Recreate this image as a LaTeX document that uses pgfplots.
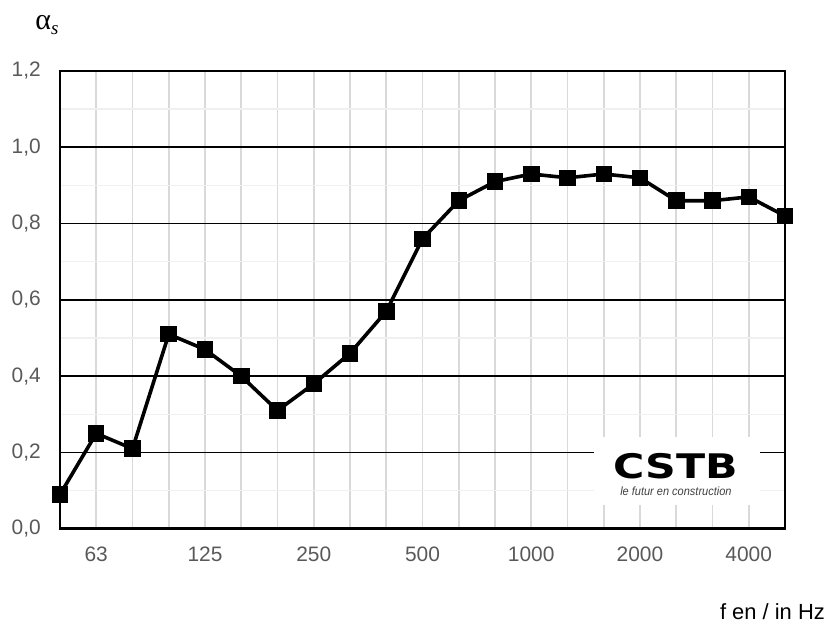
\documentclass[border=0pt]{standalone}
\usepackage{pgfplots}
\pgfplotsset{compat=1.18}
\usepackage{fontspec}
\setmainfont{Liberation Sans}
\newfontfamily\serifgr{Liberation Serif}
\newfontfamily\logofont{DejaVu Sans}
\definecolor{ticklab}{RGB}{89,89,89}
\definecolor{vgrid}{RGB}{217,217,217}
\definecolor{mgrid}{RGB}{240,240,240}
\begin{document}
\begin{tikzpicture}
\useasboundingbox (-60bp,-94.2bp) rectangle (767bp,528.8bp);
\begin{axis}[
    scale only axis,
    width=725bp, height=457.8bp,
    at={(0,0)}, anchor=south west,
    xmin=0, xmax=20, ymin=0, ymax=1.2,
    xtick={0,...,20},
    xticklabels={,63,,,125,,,250,,,500,,,1000,,,2000,,,4000,},
    ytick={0,0.2,0.4,0.6,0.8,1.0,1.2},
    minor y tick num=1,
    major tick length=0pt, minor tick length=0pt,
    xmajorgrids, ymajorgrids, yminorgrids,
    major x grid style={vgrid, line width=1.8bp},
    major y grid style={black, line width=1.6bp},
    minor y grid style={mgrid, line width=1.5bp},
    axis line style={black, line width=1.5bp},
    tick label style={font=\fontsize{21}{25}\selectfont, text=ticklab, inner sep=0pt},
    xticklabel style={anchor=center, yshift=-25bp},
    yticklabel style={anchor=east, xshift=-19bp},
    /pgf/number format/.cd, fixed, fixed zerofill, precision=1, use comma, assume math mode=true,
    /pgfplots/.cd,
    clip=false,
]
\draw[line width=2.8bp] (rel axis cs:0,0) -- (rel axis cs:1,0);
\node[fill=white, inner sep=0pt, minimum width=166bp, minimum height=68bp] at (axis cs:17.02,0.151) {};
\node[inner sep=0pt] at (axis cs:16.99,0.165) {\scalebox{1.26}[1]{\fontsize{34}{34}\selectfont\logofont\bfseries CSTB}};
\node[inner sep=0pt, text=black!75] at (axis cs:16.99,0.099) {\scalebox{0.92}[1]{\fontsize{12}{14}\selectfont\itshape le futur en construction}};
\addplot[black, line width=3.6bp, mark=square*, mark size=7bp, mark options={solid, line width=2.5bp}] coordinates {
(0,0.09) (1,0.25) (2,0.21) (3,0.51) (4,0.47) (5,0.40) (6,0.31)
(7,0.38) (8,0.46) (9,0.57) (10,0.76) (11,0.86) (12,0.91) (13,0.93)
(14,0.92) (15,0.93) (16,0.92) (17,0.86) (18,0.86) (19,0.87) (20,0.82)
};
\end{axis}
\node[inner sep=0pt] at (-13bp,504bp) {\fontsize{30}{34}\selectfont\serifgr α\raisebox{-0.35ex}{\fontsize{19}{20}\selectfont\itshape s}};
\node[anchor=east, inner sep=0pt] at (765bp,-83bp) {\fontsize{22}{26}\selectfont f en / in Hz};
\end{tikzpicture}
\end{document}
